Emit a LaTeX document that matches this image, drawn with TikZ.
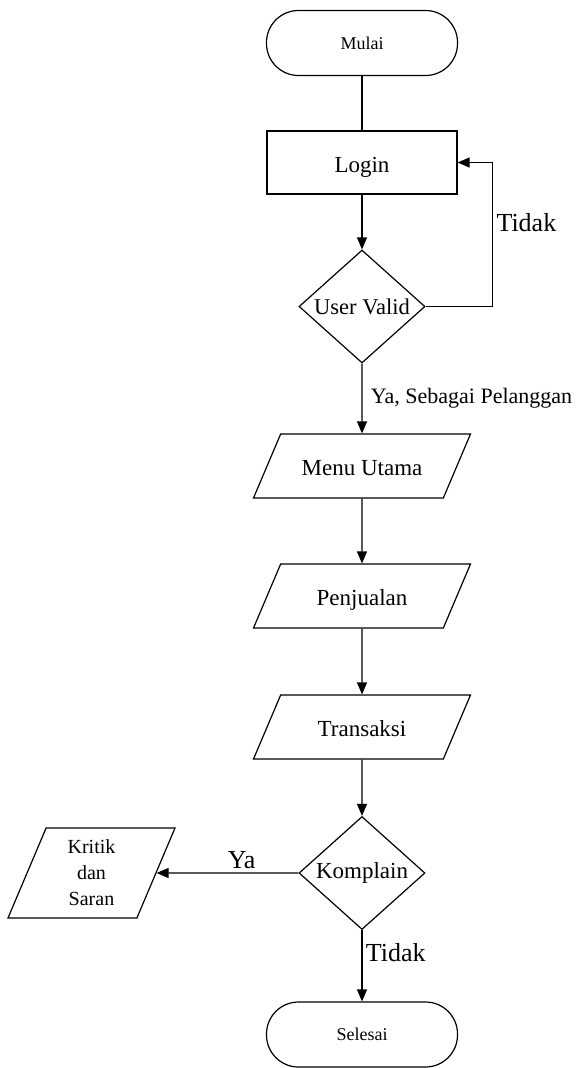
\documentclass[tikz,border=0pt]{standalone}
\usepackage{fontspec}
\setmainfont{Liberation Serif}
\usetikzlibrary{shapes.geometric,arrows.meta,positioning}

\tikzset{
  terminal/.style={draw, line width=1.2pt, rounded corners=32pt, minimum width=191pt, minimum height=65pt, font=\fontsize{18}{21}\selectfont},
  process/.style={draw, line width=1.2pt, text height=20pt, text depth=1pt, minimum width=190pt, minimum height=63pt, font=\fontsize{23}{27}\selectfont},
  decision/.style={draw, line width=1.2pt, diamond, inner sep=0pt, minimum width=126pt, minimum height=113pt},
  io/.style={draw, line width=1.2pt, trapezium, trapezium stretches body, trapezium left angle=67, trapezium right angle=113, inner xsep=0pt, inner ysep=21.5pt, text height=20pt, text depth=1pt, minimum width=217pt, minimum height=64pt, font=\fontsize{23}{27}\selectfont},
  flow/.style={line width=1.2pt, -{Triangle[length=12pt,width=10pt]}},
  lbl/.style={font=\fontsize{26}{30}\selectfont}
}

\begin{document}
\begin{tikzpicture}[x=1pt,y=-1pt]
\useasboundingbox (0,0) rectangle (581,1068);
\node[terminal] (mulai) at (362,43) {Mulai};
\node[process] (login) at (362,162.5) {Login};
\node[decision, label={[font=\fontsize{22.5}{26}\selectfont]center:User Valid}] (valid) at (362,306.5) {};
\node[io] (menu) at (362,466) {Menu Utama};
\node[io] (jual) at (362,596) {Penjualan};
\node[io] (trans) at (362,727) {Transaksi};
\node[decision, label={[font=\fontsize{23}{27}\selectfont]center:Komplain}] (komplain) at (362,873) {};
\node[io, trapezium left angle=66.6, trapezium right angle=113.4, text height=, text depth=, inner ysep=11pt, minimum width=167pt, minimum height=90pt, align=center, font=\fontsize{20}{26}\selectfont] (kritik) at (91.5,873) {Kritik\\dan\\Saran};
\node[terminal] (selesai) at (362,1034.5) {Selesai};

\draw[line width=1.2pt] (mulai) -- (login);
\draw[flow] (login) -- (valid);
\draw[flow] (valid.east) -- ++(67,0) |- (login.east) node[lbl, pos=0.29, right] {Tidak};
\draw[flow] (valid) -- (menu) node[midway, anchor=west, xshift=5pt, font=\fontsize{22}{26}\selectfont] {Ya, Sebagai Pelanggan};
\draw[flow] (menu) -- (jual);
\draw[flow] (jual) -- (trans);
\draw[flow] (trans) -- (komplain);
\draw[flow] (komplain) -- (kritik) node[lbl, pos=0.4, above] {Ya};
\draw[flow] (komplain) -- (selesai) node[lbl, pos=0.32, right] {Tidak};
\end{tikzpicture}
\end{document}
